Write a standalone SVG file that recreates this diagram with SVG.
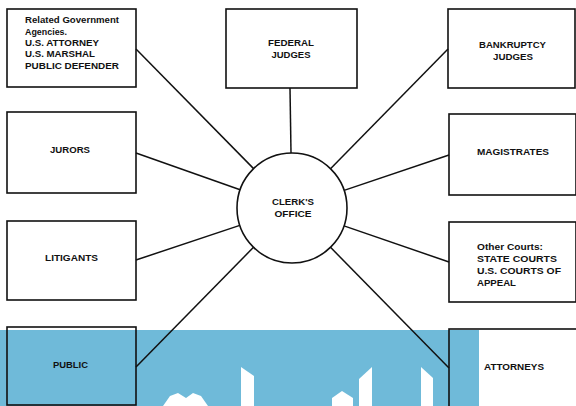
<svg xmlns="http://www.w3.org/2000/svg" width="576" height="406" viewBox="0 0 576 406">
<style>
.box{fill:none;stroke:#111;stroke-width:1.6}
.t{font-family:"Liberation Sans",Arial,sans-serif;font-size:9px;font-weight:bold;fill:#111}
.c{text-anchor:middle}
.ln{stroke:#111;stroke-width:1.5;fill:none}
</style>
<rect x="0" y="0" width="576" height="406" fill="#fff"/>
<rect x="0" y="330" width="479" height="76" fill="#6fbad9"/>
<g fill="#fff">
<path d="M163 406 L170 396 L178 393 L186 398 L193 393 L201 396 L208 406 Z"/>
<path d="M241 367 L254 376 L254 406 L241 406 Z"/>
<path d="M332 398 L342 391 L353 398 L353 406 L332 406 Z"/>
<path d="M359 379 L372 367 L372 406 L359 406 Z"/>
<path d="M421 367 L433 378 L433 406 L421 406 Z"/>
</g>
<g id="connectors">
<line class="ln" x1="136" y1="49" x2="253.6" y2="168.6"/>
<line class="ln" x1="290" y1="88" x2="291" y2="153"/>
<line class="ln" x1="448" y1="49" x2="330.5" y2="168.7"/>
<line class="ln" x1="136" y1="153" x2="240.1" y2="189.7"/>
<line class="ln" x1="449" y1="155" x2="344.1" y2="190.4"/>
<line class="ln" x1="136" y1="260" x2="239.8" y2="225.4"/>
<line class="ln" x1="449" y1="262" x2="344" y2="225.9"/>
<line class="ln" x1="136" y1="367" x2="253.5" y2="247.3"/>
<line class="ln" x1="449" y1="368" x2="330.5" y2="247.3"/>
</g>
<g id="clerk">
<circle cx="292" cy="208" r="55" fill="#fff" stroke="#111" stroke-width="1.6"/>
<text class="t c" x="293" y="205" textLength="42" lengthAdjust="spacingAndGlyphs">CLERK'S</text>
<text class="t c" x="293" y="217" textLength="37" lengthAdjust="spacingAndGlyphs">OFFICE</text>
</g>
<g id="agencies">
<rect class="box" x="7" y="9" width="129" height="78"/>
<text class="t" x="25" y="23" textLength="94" lengthAdjust="spacingAndGlyphs">Related Government</text>
<text class="t" x="25" y="35" textLength="42" lengthAdjust="spacingAndGlyphs">Agencies.</text>
<text class="t" x="25" y="46" textLength="74" lengthAdjust="spacingAndGlyphs">U.S. ATTORNEY</text>
<text class="t" x="25" y="57" textLength="70" lengthAdjust="spacingAndGlyphs">U.S. MARSHAL</text>
<text class="t" x="25" y="69" textLength="94" lengthAdjust="spacingAndGlyphs">PUBLIC DEFENDER</text>
</g>
<g id="federal">
<rect class="box" x="226" y="9" width="131" height="79"/>
<text class="t c" x="291" y="46" textLength="46" lengthAdjust="spacingAndGlyphs">FEDERAL</text>
<text class="t c" x="291" y="58" textLength="39" lengthAdjust="spacingAndGlyphs">JUDGES</text>
</g>
<g id="bankruptcy">
<rect class="box" x="448" y="9" width="127" height="79"/>
<text class="t c" x="512.5" y="48" textLength="67" lengthAdjust="spacingAndGlyphs">BANKRUPTCY</text>
<text class="t c" x="513" y="60" textLength="40" lengthAdjust="spacingAndGlyphs">JUDGES</text>
</g>
<g id="jurors">
<rect class="box" x="7" y="112" width="129" height="81"/>
<text class="t c" x="70" y="153" textLength="40" lengthAdjust="spacingAndGlyphs">JURORS</text>
</g>
<g id="magistrates">
<rect class="box" x="449" y="114" width="127" height="81"/>
<text class="t" x="477" y="155" textLength="72" lengthAdjust="spacingAndGlyphs">MAGISTRATES</text>
</g>
<g id="litigants">
<rect class="box" x="7" y="221" width="129" height="79"/>
<text class="t c" x="71.5" y="261" textLength="53" lengthAdjust="spacingAndGlyphs">LITIGANTS</text>
</g>
<g id="othercourts">
<rect class="box" x="449" y="222" width="127" height="80"/>
<text class="t" x="477" y="250" textLength="66" lengthAdjust="spacingAndGlyphs">Other Courts:</text>
<text class="t" x="477" y="262" textLength="80" lengthAdjust="spacingAndGlyphs">STATE COURTS</text>
<text class="t" x="477" y="274" textLength="84" lengthAdjust="spacingAndGlyphs">U.S. COURTS OF</text>
<text class="t" x="477" y="286" textLength="39" lengthAdjust="spacingAndGlyphs">APPEAL</text>
</g>
<g id="public">
<rect class="box" x="7" y="327" width="129" height="78"/>
<text class="t c" x="70.5" y="368" textLength="35" lengthAdjust="spacingAndGlyphs">PUBLIC</text>
</g>
<g id="attorneys">
<rect class="box" x="449" y="329" width="128" height="80"/>
<text class="t" x="484" y="370" textLength="60" lengthAdjust="spacingAndGlyphs">ATTORNEYS</text>
</g>
</svg>
